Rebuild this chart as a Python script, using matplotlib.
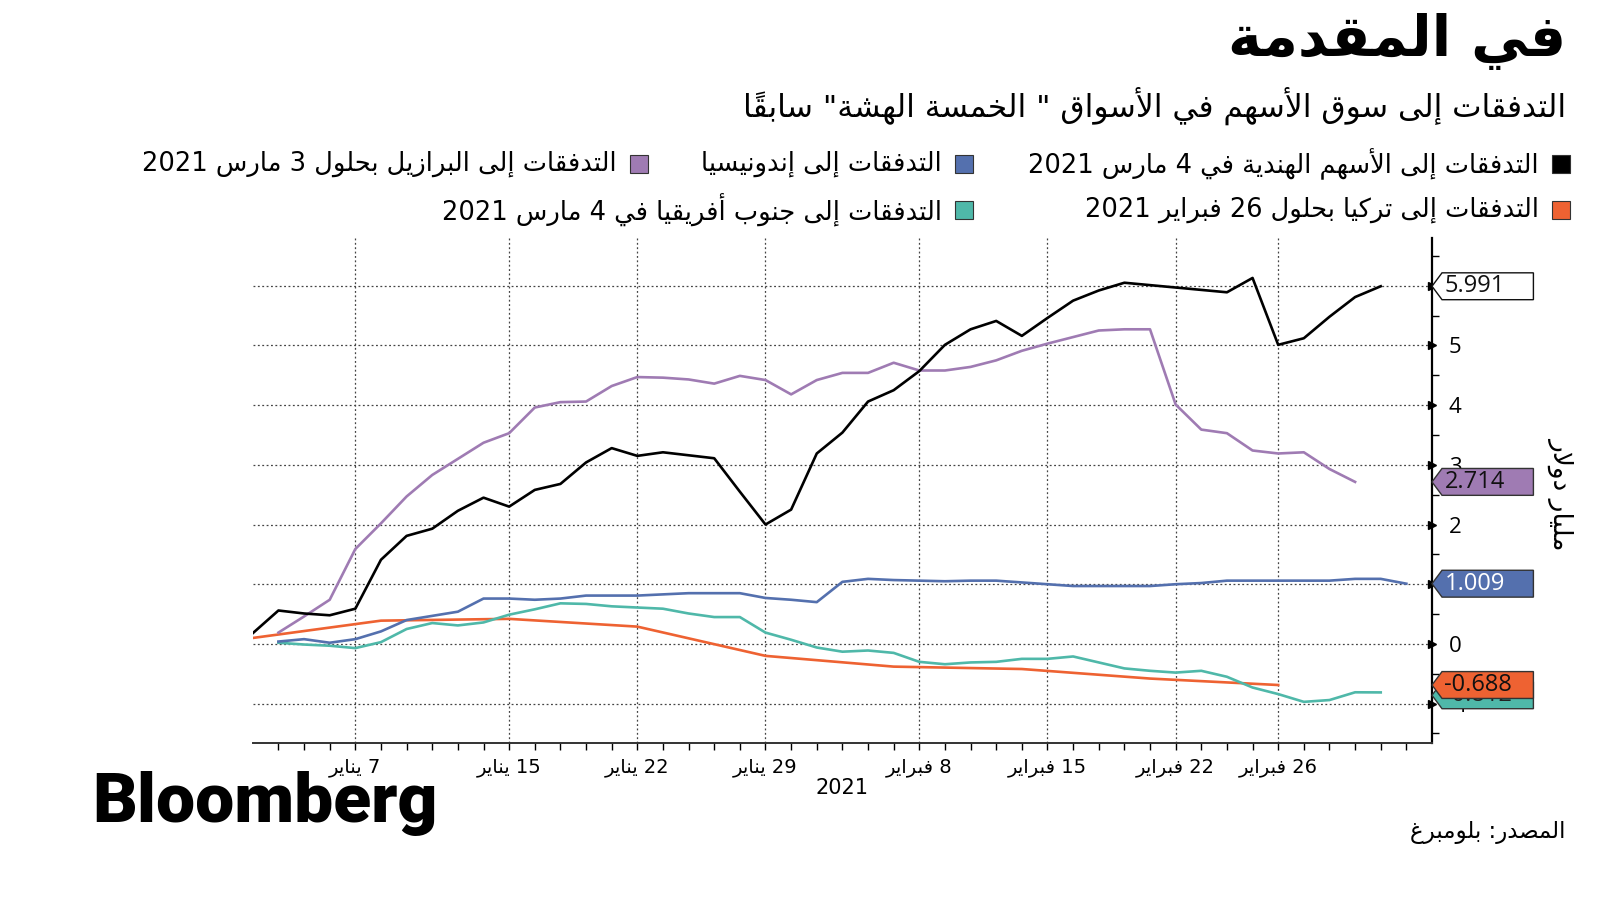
import re
import matplotlib
matplotlib.use('Agg')
import matplotlib.pyplot as plt
from matplotlib.patches import Polygon, Rectangle
import numpy as np

# ---- data (billion USD, cumulative flows, business days from 1 Jan 2021) ----
n_days = 46
tick_pos = [4, 10, 15, 20, 26, 31, 36, 40]
tick_lbl = ['7 يناير', '15 يناير', '22 يناير', '29 يناير',
            '8 فبراير', '15 فبراير', '22 فبراير', '26 فبراير']

india_start = 0
india = [0.18, 0.56, 0.51, 0.48, 0.59, 1.41, 1.81, 1.93, 2.23, 2.45,
         2.30, 2.58, 2.68, 3.04, 3.28, 3.15, 3.21, 3.16, 3.11, 2.55,
         2.00, 2.25, 3.19, 3.54, 4.06, 4.25, 4.57, 5.01, 5.27, 5.41,
         5.16, 5.46, 5.75, 5.92, 6.05, 6.01, 5.97, 5.93, 5.89, 6.13,
         5.01, 5.12, 5.48, 5.81, 5.991]

brazil_start = 1
brazil = [0.19, 0.46, 0.74, 1.59, 2.02, 2.47, 2.83, 3.10, 3.37, 3.53,
          3.96, 4.05, 4.06, 4.32, 4.47, 4.46, 4.43, 4.36, 4.49, 4.42,
          4.18, 4.42, 4.54, 4.54, 4.71, 4.58, 4.58, 4.64, 4.75, 4.91,
          5.03, 5.14, 5.25, 5.27, 5.27, 4.01, 3.59, 3.53, 3.24, 3.19,
          3.21, 2.93, 2.714]

indonesia_start = 1
indonesia = [0.04, 0.08, 0.02, 0.08, 0.21, 0.40, 0.47, 0.54, 0.76, 0.76,
             0.74, 0.76, 0.81, 0.81, 0.81, 0.83, 0.85, 0.85, 0.85, 0.77,
             0.74, 0.70, 1.04, 1.09, 1.07, 1.06, 1.05, 1.06, 1.06, 1.03,
             1.00, 0.97, 0.97, 0.97, 0.97, 1.00, 1.02, 1.06, 1.06, 1.06,
             1.06, 1.06, 1.09, 1.09, 1.009]

safrica_start = 1
safrica = [0.02, -0.01, -0.03, -0.07, 0.03, 0.25, 0.35, 0.31, 0.36, 0.49,
           0.58, 0.68, 0.67, 0.63, 0.61, 0.59, 0.51, 0.45, 0.45, 0.19,
           0.07, -0.06, -0.13, -0.11, -0.15, -0.30, -0.34, -0.31, -0.30, -0.25,
           -0.25, -0.21, -0.31, -0.41, -0.45, -0.48, -0.45, -0.55, -0.73, -0.84,
           -0.97, -0.94, -0.81, -0.812]

# Turkey is weekly (Fridays)
turkey_days = [0, 5, 10, 15, 20, 25, 30, 35, 40]
turkey = [0.10, 0.39, 0.42, 0.29, -0.20, -0.38, -0.42, -0.58, -0.688]

c_india = '#000000'
c_brazil = '#9f7bb3'
c_indo = '#5470ae'
c_safr = '#4fb8a9'
c_turk = '#ee6232'

# ---- minimal Arabic shaping for matplotlib (no complex text layout) ----
FORMS = {'ء': (0xFE80, 1), 'آ': (0xFE81, 2), 'أ': (0xFE83, 2), 'ؤ': (0xFE85, 2),
         'إ': (0xFE87, 2), 'ئ': (0xFE89, 4), 'ا': (0xFE8D, 2), 'ب': (0xFE8F, 4),
         'ة': (0xFE93, 2), 'ت': (0xFE95, 4), 'ث': (0xFE99, 4), 'ج': (0xFE9D, 4),
         'ح': (0xFEA1, 4), 'خ': (0xFEA5, 4), 'د': (0xFEA9, 2), 'ذ': (0xFEAB, 2),
         'ر': (0xFEAD, 2), 'ز': (0xFEAF, 2), 'س': (0xFEB1, 4), 'ش': (0xFEB5, 4),
         'ص': (0xFEB9, 4), 'ض': (0xFEBD, 4), 'ط': (0xFEC1, 4), 'ظ': (0xFEC5, 4),
         'ع': (0xFEC9, 4), 'غ': (0xFECD, 4), 'ف': (0xFED1, 4), 'ق': (0xFED5, 4),
         'ك': (0xFED9, 4), 'ل': (0xFEDD, 4), 'م': (0xFEE1, 4), 'ن': (0xFEE5, 4),
         'ه': (0xFEE9, 4), 'و': (0xFEED, 2), 'ى': (0xFEEF, 2), 'ي': (0xFEF1, 4)}
LAM_ALEF = {'آ': 0xFEF5, 'أ': 0xFEF7, 'إ': 0xFEF9, 'ا': 0xFEFB}


def is_mark(c):
    return '\u064B' <= c <= '\u0652'


def ar(text):
    items = []
    i = 0
    while i < len(text):
        c = text[i]
        if c == 'ل' and i + 1 < len(text) and text[i + 1] in LAM_ALEF:
            items.append(['L', LAM_ALEF[text[i + 1]], 2])
            i += 2
            continue
        if c in FORMS:
            items.append(['L', FORMS[c][0], FORMS[c][1]])
        elif is_mark(c):
            items.append(['M', c, 0])
        else:
            items.append(['X', c, 0])
        i += 1
    letters = [k for k, it in enumerate(items) if it[0] != 'M']
    out = []
    for k, it in enumerate(items):
        if it[0] == 'M' or it[0] == 'X':
            out.append(it[1])
            continue
        pos = letters.index(k)
        prv = items[letters[pos - 1]] if pos > 0 else None
        nxt = items[letters[pos + 1]] if pos + 1 < len(letters) else None
        pj = prv is not None and prv[0] == 'L' and prv[2] == 4 and it[2] >= 2
        nj = it[2] == 4 and nxt is not None and nxt[0] == 'L' and nxt[2] >= 2
        base, nf = it[1], it[2]
        if nf == 1:
            off = 0
        elif nf == 2:
            off = 1 if pj else 0
        else:
            off = 3 if (pj and nj) else 1 if pj else 2 if nj else 0
        out.append(chr(base + off))
    s = ''.join(out)
    toks = re.findall(r'[0-9]+(?:[.,][0-9]+)*|.[\u064B-\u0652]*', s)
    return ''.join(reversed(toks))


AR = ['DejaVu Sans']
NUM = ['Open Sans', 'DejaVu Sans']

# ---- figure ----
fig = plt.figure(figsize=(16, 9), dpi=100)
ax = fig.add_axes([0.158, 0.1744, 0.737, 0.5612])

ax.plot(turkey_days, turkey, color=c_turk, lw=1.9, zorder=3)
ax.plot(np.arange(len(safrica)) + safrica_start, safrica, color=c_safr, lw=1.9, zorder=3)
ax.plot(np.arange(len(indonesia)) + indonesia_start, indonesia, color=c_indo, lw=1.9, zorder=3)
ax.plot(np.arange(len(brazil)) + brazil_start, brazil, color=c_brazil, lw=1.9, zorder=3)
ax.plot(np.arange(len(india)) + india_start, india, color=c_india, lw=1.9, zorder=4)

ax.set_xlim(0, n_days)
ax.set_ylim(-1.66, 6.8)

for s in ['left', 'top']:
    ax.spines[s].set_visible(False)
ax.spines['right'].set_linewidth(1.6)
ax.spines['bottom'].set_linewidth(1.4)
ax.spines['bottom'].set_color('#333333')

# labels for 6 and 1 sit fully under the value tags
ax.yaxis.tick_right()
ax.set_yticks(range(-1, 7))
ax.set_yticklabels(['-1', '0', '', '2', '3', '4', '5', ''], fontfamily=NUM, fontsize=16)
ax.set_yticks(np.arange(-1.5, 7, 1.0), minor=True)
ax.tick_params(axis='y', which='major', length=0, pad=12)
ax.tick_params(axis='y', which='minor', length=5, width=1, direction='out')
ax.plot(np.full(8, 1.0), range(-1, 7), transform=ax.get_yaxis_transform(),
        marker='>', ms=6, color='black', ls='none', clip_on=False, zorder=5)

ax.set_xticks(tick_pos)
ax.set_xticklabels([ar(t) for t in tick_lbl], fontfamily=AR, fontsize=14)
ax.set_xticks(range(1, n_days), minor=True)
ax.tick_params(axis='x', which='both', length=5, width=1, direction='out', pad=6)

ax.grid(True, which='major', linestyle=(0, (1.5, 2)), color='#444444', lw=0.9)
ax.set_axisbelow(True)

# end-of-line value tags (later ones sit on top)
ytr = ax.get_yaxis_transform()
tags = [(-0.86, '-0.812', c_safr, '#222222', '#333333'),
        (-0.688, '-0.688', c_turk, '#111111', '#333333'),
        (1.009, '1.009', c_indo, 'white', '#333333'),
        (2.714, '2.714', c_brazil, '#111111', '#333333'),
        (5.991, '5.991', 'white', '#111111', '#111111')]
tip = 0.0085
w = 0.086
h = 0.225
for k, (v, txt, fc, tc, ec) in enumerate(tags):
    z = 6 + k * 0.2
    poly = Polygon([(1.0, v), (1.0 + tip, v + h), (1.0 + w, v + h),
                    (1.0 + w, v - h), (1.0 + tip, v - h)],
                   closed=True, transform=ytr, facecolor=fc, edgecolor=ec,
                   lw=1, clip_on=False, zorder=z)
    ax.add_patch(poly)
    ax.text(1.0 + tip + 0.002, v, txt, transform=ytr, ha='left', va='center',
            fontsize=17, fontfamily=NUM, color=tc, zorder=z + 0.1, clip_on=False)

fig.text(1561 / 1600, 1 - 493 / 900, ar('مليار دولار'), rotation=270,
         ha='center', va='center', fontsize=19, fontfamily=AR)
fig.text(842 / 1600, 1 - 788 / 900, '2021', ha='center', va='center',
         fontsize=15, fontfamily=AR)

# ---- titles ----
fig.text(1566 / 1600, 1 - 42 / 900, ar('في المقدمة'), ha='right', va='center',
         fontsize=41, fontweight='bold', fontfamily=AR)
fig.text(1566 / 1600, 1 - 106 / 900,
         ar('التدفقات إلى سوق الأسهم في الأسواق " الخمسة الهشة" سابقاً'),
         ha='right', va='center', fontsize=22.5, fontfamily=AR)

# ---- legend ----
legend = [('التدفقات إلى الأسهم الهندية في 4 مارس 2021', c_india, 1561, 164),
          ('التدفقات إلى إندونيسيا', c_indo, 964, 164),
          ('التدفقات إلى البرازيل بحلول 3 مارس 2021', c_brazil, 639, 164),
          ('التدفقات إلى تركيا بحلول 26 فبراير 2021', c_turk, 1561, 210),
          ('التدفقات إلى جنوب أفريقيا في 4 مارس 2021', c_safr, 964, 210)]
sq = 18
for label, col, xc, yc in legend:
    fig.patches.append(Rectangle(((xc - sq / 2) / 1600, 1 - (yc + sq / 2) / 900),
                                 sq / 1600, sq / 900, transform=fig.transFigure,
                                 facecolor=col, edgecolor='#333333', lw=0.8))
    fig.text((xc - 22) / 1600, 1 - yc / 900, ar(label), ha='right', va='center',
             fontsize=18.5, fontfamily=AR)

# ---- footer ----
fig.text(92 / 1600, 1 - 803 / 900, 'Bloomberg', ha='left', va='center',
         fontsize=50, fontweight='heavy', fontfamily=['Roboto', 'Liberation Sans'])
fig.text(1566 / 1600, 1 - 832 / 900, ar('المصدر: بلومبرغ'), ha='right', va='center',
         fontsize=16.5, fontfamily=AR)

fig.savefig('out.png', dpi=100, facecolor='white')
